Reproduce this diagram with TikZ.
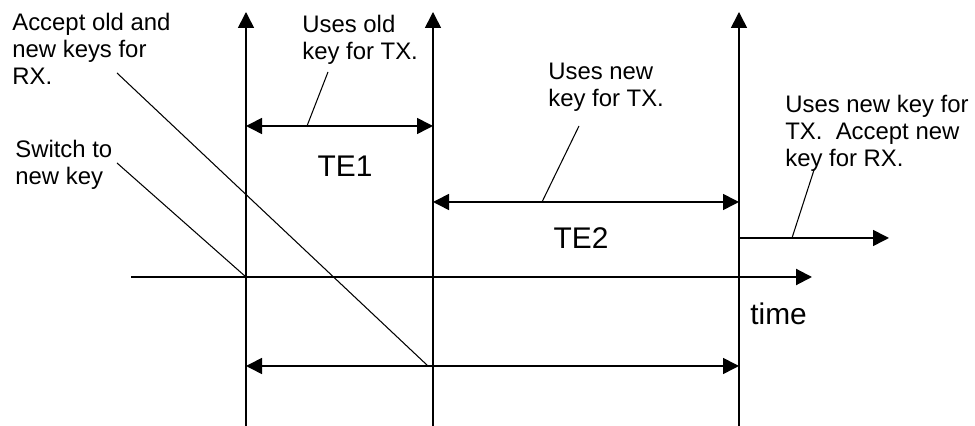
\documentclass[tikz,border=0pt]{standalone}
\usepackage{fontspec}
\setmainfont{Liberation Sans}
\usetikzlibrary{arrows.meta,positioning}
\tikzset{
  tip/.style   = {Triangle[length=3.2mm,width=3.2mm]},
  epoch/.style = {line width=0.9pt, -{Triangle[length=3.2mm,width=3.2mm]}},
  span/.style  = {line width=0.9pt, {Triangle[length=3.2mm,width=3.2mm]}-{Triangle[length=3.2mm,width=3.2mm]}},
  axis/.style  = {line width=1.2pt, -{Triangle[length=3.2mm,width=3.2mm]}},
  lead/.style  = {line width=0.6pt},
  note/.style  = {align=left, inner sep=0pt, anchor=north west,
                  font=\fontsize{13.6}{15.3}\selectfont},
  big/.style   = {inner sep=0pt, anchor=base, font=\fontsize{17}{20}\selectfont},
}
\begin{document}
\begin{tikzpicture}[x=1cm,y=1cm]
  \useasboundingbox (0,0) rectangle (19.5,8.52);
  % key epochs
  \coordinate (e1b) at (4.92,0);  \coordinate (e1t) at (4.92,8.28);
  \coordinate (e2b) at (8.66,0);  \coordinate (e2t) at (8.66,8.28);
  \coordinate (e3b) at (14.78,0); \coordinate (e3t) at (14.78,8.28);
  \draw[epoch] (e1b) -- (e1t);
  \draw[epoch] (e2b) -- (e2t);
  \draw[epoch] (e3b) -- (e3t);
  % time axis
  \coordinate (t0) at (2.62,2.98);
  \coordinate (t1) at (16.24,2.98);
  \coordinate (sw) at (4.92,2.98);
  \draw[axis] (t0) -- (t1);
  \node[big,anchor=base west] (time) at (15.0,2.02) {time};
  % intervals
  \coordinate (a1) at (4.92,6.0);  \coordinate (a2) at (8.66,6.0);
  \coordinate (b1) at (8.66,4.48); \coordinate (b2) at (14.78,4.48);
  \coordinate (c1) at (14.78,3.76); \coordinate (c2) at (17.78,3.76);
  \coordinate (d1) at (4.92,1.2);  \coordinate (d2) at (14.78,1.2);
  \draw[span] (a1) -- (a2);
  \draw[span] (b1) -- (b2);
  \draw[epoch] (c1) -- (c2);
  \draw[span] (d1) -- (d2);
  \node[big] (te1) at (6.9,4.98) {TE1};
  \node[big] (te2) at (11.62,3.54) {TE2};
  % notes
  \node[note] (acc) at (0.24,8.26) {Accept old and\\new keys for\\RX.};
  \node[note] (swn) at (0.3,5.72) {Switch to\\new key};
  \node[note] (old) at (6.04,8.22) {Uses old\\key for TX.};
  \node[note] (new) at (10.96,7.26) {Uses new\\key for TX.};
  \node[note] (fin) at (15.7,6.62) {Uses new key for\\TX.\ \ Accept new\\key for RX.};
  % leaders
  \coordinate (p1) at (2.34,7.06); \coordinate (q1) at (8.56,1.2);
  \coordinate (p2) at (2.34,5.26);
  \coordinate (p3) at (6.56,7.08); \coordinate (q3) at (6.14,6.0);
  \coordinate (p4) at (11.58,6.0); \coordinate (q4) at (10.84,4.48);
  \coordinate (p5) at (16.28,5.12); \coordinate (q5) at (15.84,3.76);
  \draw[lead] (p1) -- (q1);
  \draw[lead] (p2) -- (sw);
  \draw[lead] (p3) -- (q3);
  \draw[lead] (p4) -- (q4);
  \draw[lead] (p5) -- (q5);
\end{tikzpicture}
\end{document}
